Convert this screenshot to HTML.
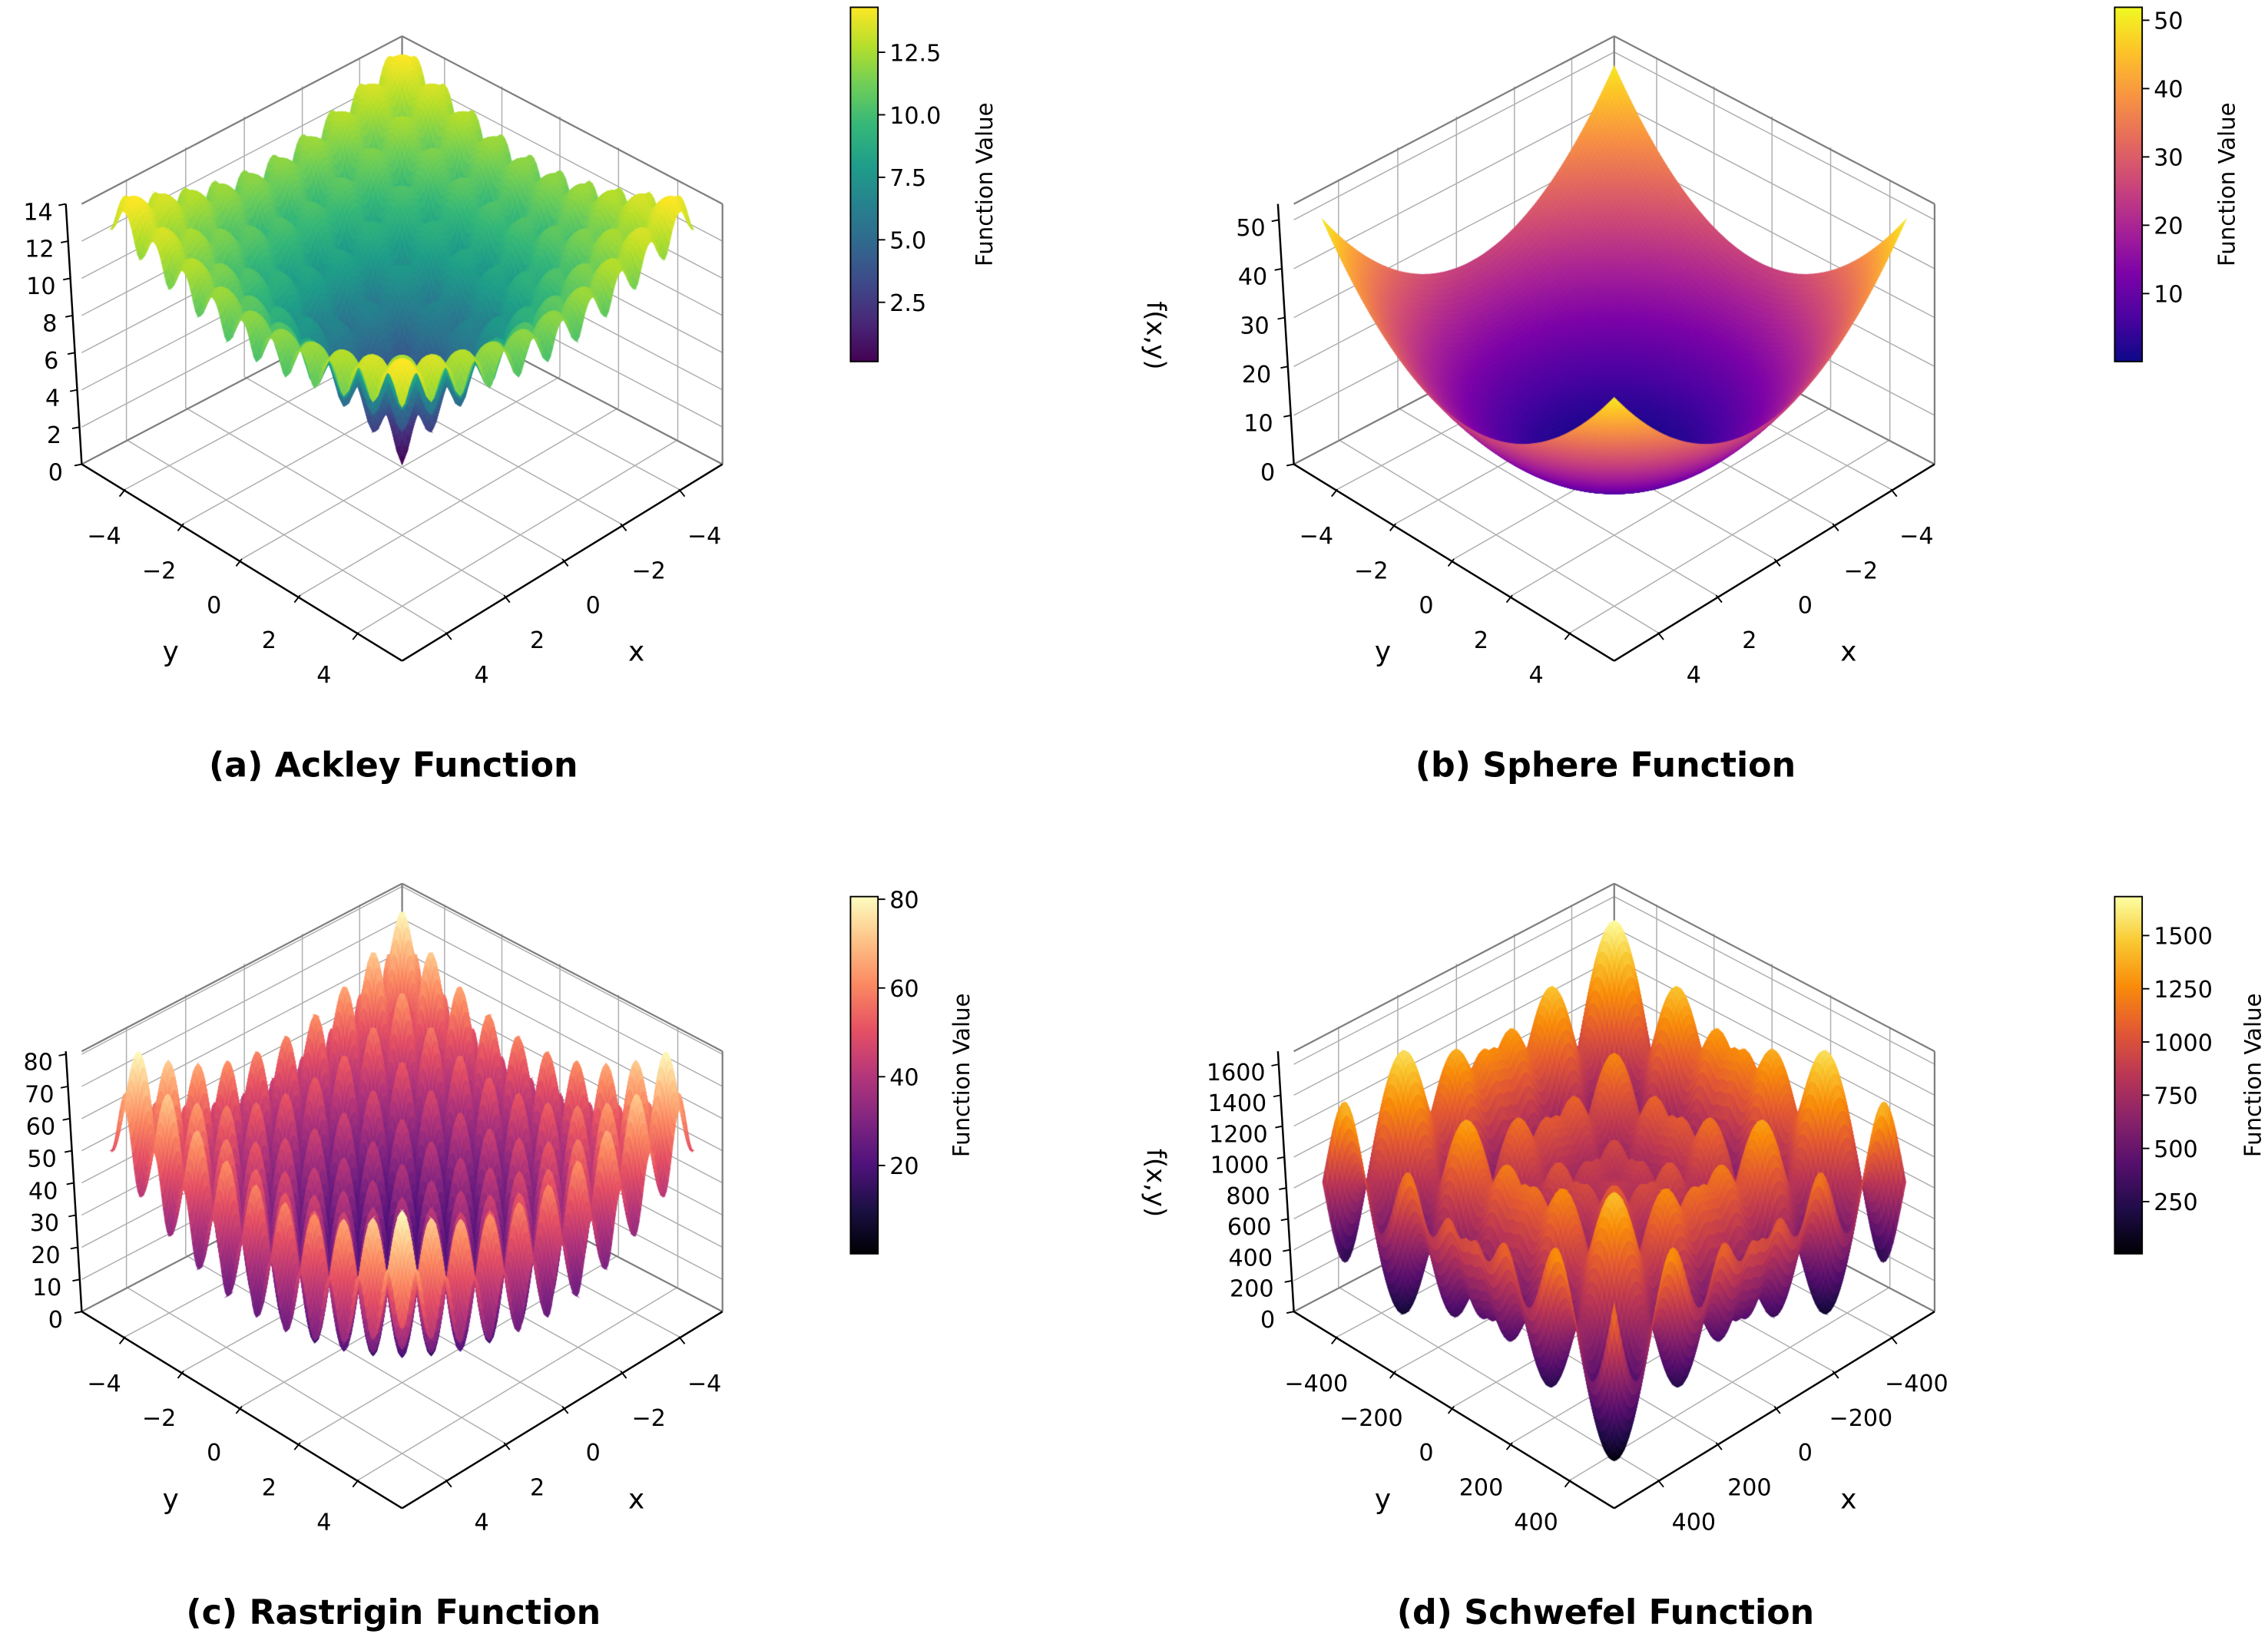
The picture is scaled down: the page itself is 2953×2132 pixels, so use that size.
<!DOCTYPE html>
<html><head><meta charset="utf-8"><style>
html,body{margin:0;padding:0;background:#fff;}
#wrap{position:relative;width:2953px;height:2132px;overflow:hidden;}
svg,canvas{position:absolute;left:0;top:0;}
text{font-family:"DejaVu Sans","Liberation Sans",sans-serif;}
</style></head><body>
<div id="wrap">
<svg id="back" width="2953" height="2132" viewBox="0 0 1568 1132"></svg>
<canvas id="cv" width="2953" height="2132"></canvas>
<svg id="front" width="2953" height="2132" viewBox="0 0 1568 1132"></svg>
</div>
<script>
// ---- data ----
const panelTitles = ["(a) Ackley Function","(b) Sphere Function","(c) Rastrigin Function","(d) Schwefel Function"];
const panelFuncs = ["ackley","sphere","rastrigin","schwefel"];
const panelDomain = [5,5,5,500];
const panelZTop = [14.0,53.25,80.9,1684];
const zTicksA = [0,2,4,6,8,10,12,14];
const zTicksB = [0,10,20,30,40,50];
const zTicksC = [0,10,20,30,40,50,60,70,80];
const zTicksD = [0,200,400,600,800,1000,1200,1400,1600];
const xyTicksSmall = [-4,-2,0,2,4];
const xyTicksLarge = [-400,-200,0,200,400];
const cbarMin = [0.13,0.05,0.1,5];
const cbarMax = [14.3,51.9,80.6,1683];
const cbarTicksA = [2.5,5,7.5,10,12.5];
const cbarTicksB = [10,20,30,40,50];
const cbarTicksC = [20,40,60,80];
const cbarTicksD = [250,500,750,1000,1250,1500];
const cbarLabelsA = ["2.5","5.0","7.5","10.0","12.5"];
const panelZLabel = [false,true,false,true];
const panelCmap = ["viridis","plasma","magma","inferno"];

const zTicksAll=[zTicksA,zTicksB,zTicksC,zTicksD];
const xyTicksAll=[xyTicksSmall,xyTicksSmall,xyTicksSmall,xyTicksLarge];
const cbTicksAll=[cbarTicksA,cbarTicksB,cbarTicksC,cbarTicksD];
const cbLabAll=[cbarLabelsA,cbarTicksB.map(String),cbarTicksC.map(String),cbarTicksD.map(String)];

const CM={
viridis:[[68,1,84],[72,40,120],[62,74,137],[49,104,142],[38,130,142],[31,158,137],[53,183,121],[109,205,89],[180,222,44],[253,231,37]],
plasma:[[13,8,135],[75,3,161],[125,3,168],[168,34,150],[203,70,121],[229,107,93],[248,148,65],[253,195,40],[240,249,33]],
magma:[[0,0,4],[28,16,68],[79,18,123],[129,37,129],[181,54,122],[229,80,100],[251,135,97],[254,194,135],[252,253,191]],
inferno:[[0,0,4],[31,12,72],[85,15,109],[136,34,106],[186,54,85],[227,89,51],[249,140,10],[249,201,50],[252,255,164]]};
function cmap(name,t){const s=CM[name];t=Math.max(0,Math.min(1,t));const f=t*(s.length-1);const i=Math.min(s.length-2,Math.floor(f));const r=f-i;
 return s[i].map((c,k)=>Math.round(c+(s[i+1][k]-c)*r));}
const F={
 ackley:(x,y)=>-20*Math.exp(-0.2*Math.sqrt(0.5*(x*x+y*y)))-Math.exp(0.5*(Math.cos(2*Math.PI*x)+Math.cos(2*Math.PI*y)))+Math.E+20,
 sphere:(x,y)=>x*x+y*y,
 rastrigin:(x,y)=>20+x*x-10*Math.cos(2*Math.PI*x)+y*y-10*Math.cos(2*Math.PI*y),
 schwefel:(x,y)=>418.9829*2-x*Math.sin(Math.sqrt(Math.abs(x)))-y*Math.sin(Math.sqrt(Math.abs(y)))};

const NS="http://www.w3.org/2000/svg";
const back=document.getElementById('back'), front=document.getElementById('front');
function el(p,tag,attrs,txt){const e=document.createElementNS(NS,tag);for(const k in attrs)e.setAttribute(k,attrs[k]);if(txt!==undefined)e.textContent=txt;p.appendChild(e);return e;}
const S=2953/1568;
const ctx=document.getElementById('cv').getContext('2d');ctx.scale(S,S);

const K=22.15, H=180, SC=0.91;
function proj(P,u,v,w){
 const d=(u+v)/2;
 const X=P.cx+(v-u)*5*K*(d<0?1+0.03*d:1);
 const Y=P.cy+126*d+10*d*d-w*H;
 return [X,Y];
}
const offs=[[0,0],[838,0],[0,586],[838,586]];
for(let p=0;p<4;p++){
 const P={cx:278+offs[p][0],cy:321+offs[p][1]};
 const ox=offs[p][0], oy=offs[p][1];
 const dom=panelDomain[p], zt=panelZTop[p];
 const g=el(back,'g',{});
 
 
 const ln=(a,b,c,w)=>el(g,'line',{x1:a[0],y1:a[1],x2:b[0],y2:b[1],stroke:c||'#b0b0b0','stroke-width':w||0.8});
 xyTicksAll[p].forEach(t=>{const s=t/dom*SC;
  ln(proj(P,s,-1,0),proj(P,s,1,0)); ln(proj(P,-1,s,0),proj(P,1,s,0));
  ln(proj(P,s,-1,0),proj(P,s,-1,1)); ln(proj(P,-1,s,0),proj(P,-1,s,1));});
 zTicksAll[p].forEach(z=>{const w=z/zt;
  ln(proj(P,1,-1,w),proj(P,-1,-1,w)); ln(proj(P,-1,-1,w),proj(P,-1,1,w));});
 const E='#7f7f7f';
 ln(proj(P,1,-1,1),proj(P,-1,-1,1),E,1.2); ln(proj(P,-1,-1,1),proj(P,-1,1,1),E,1.2);
 ln(proj(P,-1,-1,0),proj(P,-1,-1,1),E,1.2); ln(proj(P,-1,1,0),proj(P,-1,1,1),E,1.2);
 ln(proj(P,1,-1,0),proj(P,-1,-1,0),E,1.2); ln(proj(P,-1,-1,0),proj(P,-1,1,0),E,1.2);
 ln(proj(P,1,-1,0),proj(P,1,1,0),'#000',1.3); ln(proj(P,1,1,0),proj(P,-1,1,0),'#000',1.3);
 const zb=proj(P,1,-1,0), ztp=proj(P,1,-1,1);
 ln([zb[0],zb[1]],[ztp[0]-11,ztp[1]],'#000',1.3);

 const fn=F[panelFuncs[p]], N=p==2?160:120, cm=panelCmap[p];
 const Z=[];for(let i=0;i<=N;i++){Z.push([]);for(let j=0;j<=N;j++){const x=-dom+2*dom*i/N,y=-dom+2*dom*j/N;Z[i].push(fn(x,y));}}
 const cells=[];for(let i=0;i<N;i++)for(let j=0;j<N;j++)cells.push([i,j]);
 cells.sort((a,b)=>(a[0]+a[1])-(b[0]+b[1]));
 const lo=cbarMin[p],hi=cbarMax[p];
 cells.forEach(([i,j])=>{
  const pts=[[i,j],[i+1,j],[i+1,j+1],[i,j+1]].map(([a,b])=>proj(P,SC*(-1+2*a/N),SC*(-1+2*b/N),Z[a][b]/zt));
  const zz=(Z[i][j]+Z[i+1][j]+Z[i][j+1]+Z[i+1][j+1])/4;
  const c=cmap(cm,(zz-lo)/(hi-lo));const col='rgb('+c.join(',')+')';
  ctx.beginPath();ctx.moveTo(pts[0][0],pts[0][1]);for(let k=1;k<4;k++)ctx.lineTo(pts[k][0],pts[k][1]);ctx.closePath();
  ctx.fillStyle=col;ctx.strokeStyle=col;ctx.lineWidth=0.6;ctx.fill();ctx.stroke();
 });

 const fg=el(front,'g',{});
 
 
 const fmt=t=>t<0?'\u2212'+(-t):String(t);
 xyTicksAll[p].forEach(t=>{const s=(t/dom+0.8)/1.6;
  const xl=[487+(333-487)*s+ox, 376+(472-376)*s+oy];
  const t1=el(fg,'text',{x:xl[0],y:xl[1],'font-size':16,'text-anchor':'middle'},fmt(t));
  
  const yl=[72+(224-72)*s+ox, 376+(472-376)*s+oy];
  const t2=el(fg,'text',{x:yl[0],y:yl[1],'font-size':16,'text-anchor':'middle'},fmt(t));
  
  const pa=proj(P,SC*t/dom,1,0), pb=proj(P,1,SC*t/dom,0);
  el(fg,'line',{x1:pa[0],y1:pa[1],x2:pa[0]+4,y2:pa[1]+5,stroke:'#000','stroke-width':1});
  el(fg,'line',{x1:pb[0],y1:pb[1],x2:pb[0]-4,y2:pb[1]+5,stroke:'#000','stroke-width':1});
 });
 const xa=el(fg,'text',{x:440+ox,y:457+oy,'font-size':19,'text-anchor':'middle'},'x');
 
 const ya=el(fg,'text',{x:118+ox,y:457+oy,'font-size':19,'text-anchor':'middle'},'y');
 
 zTicksAll[p].forEach(z=>{const w=z/zt;const yy=zb[1]-w*H;const xx=zb[0]-11*w;
  el(fg,'line',{x1:xx-5,y1:yy+1,x2:xx,y2:yy,stroke:'#000','stroke-width':1});
  const t=el(fg,'text',{x:xx-9-(1-w)*4,y:yy+11,'font-size':16,'text-anchor':'end'},String(z));
  });
 if(panelZLabel[p]){const t=el(fg,'text',{x:0,y:0,'font-size':18,'text-anchor':'middle',transform:`translate(${793+ox-838},${232+oy}) rotate(90)`},'f(x,y)');
  }
 const tt=el(fg,'text',{x:272+ox,y:537+oy,'font-size':23.5,'font-weight':'bold','text-anchor':'middle'},panelTitles[p]);
 

 const cbx=588+(ox?874:0), cby0=5+(oy?615:0), cby1=250+(oy?617:0);
 const gid='grad'+p;
 const defs=el(fg,'defs',{});const lg=el(defs,'linearGradient',{id:gid,x1:0,y1:1,x2:0,y2:0});
 CM[cm].forEach((c,k,a)=>el(lg,'stop',{offset:k/(a.length-1),'stop-color':'rgb('+c.join(',')+')'}));
 const cr=el(fg,'rect',{x:cbx,y:cby0,width:19,height:cby1-cby0,fill:`url(#${gid})`,stroke:'#000','stroke-width':1});
 
 cbTicksAll[p].forEach((v,k)=>{const yy=cby1-(v-lo)/(hi-lo)*(cby1-cby0);
  el(fg,'line',{x1:cbx+19,y1:yy,x2:cbx+24,y2:yy,stroke:'#000','stroke-width':1});
  const t=el(fg,'text',{x:cbx+27,y:yy+6,'font-size':16},cbLabAll[p][k]);
  });
 const lx=[686,1545,670,1563][p], ly=(cby0+cby1)/2;
 const cl=el(fg,'text',{x:0,y:0,'font-size':15.5,'text-anchor':'middle',transform:`translate(${lx},${ly}) rotate(-90)`},'Function Value');
 
}
</script>
</body></html>
